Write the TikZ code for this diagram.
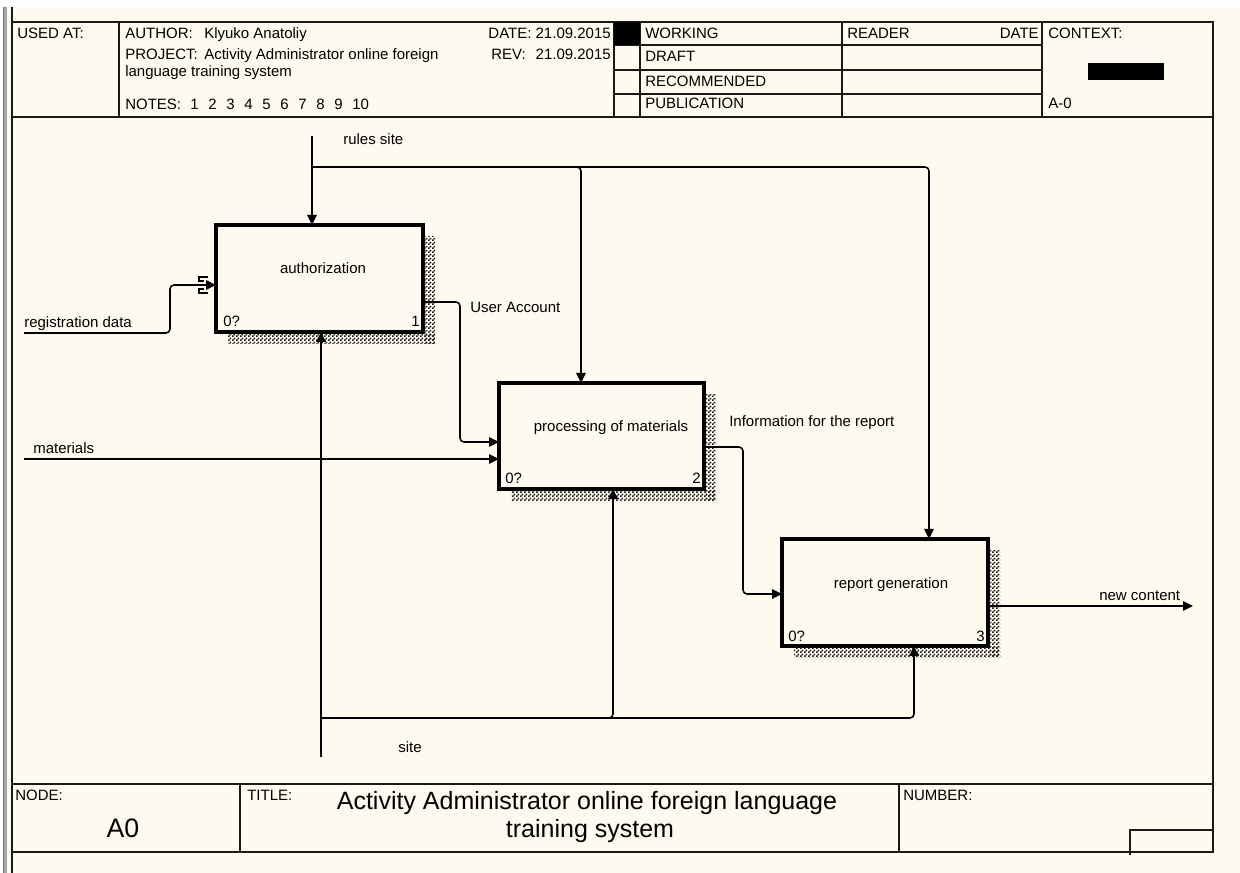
\documentclass[tikz,border=0pt]{standalone}
\usepackage{fontspec}
\setmainfont{Liberation Sans}
\usetikzlibrary{arrows.meta,patterns,calc}
\definecolor{paper}{RGB}{255,250,240}
\definecolor{ink}{RGB}{25,25,25}
% fine checker used for the box shadows
\pgfdeclarepatternformonly{dither}{\pgfpointorigin}{\pgfpoint{3pt}{3pt}}{\pgfpoint{3pt}{3pt}}{%
  \pgfpathrectangle{\pgfpointorigin}{\pgfpoint{1.5pt}{1.5pt}}%
  \pgfpathrectangle{\pgfpoint{1.5pt}{1.5pt}}{\pgfpoint{1.5pt}{1.5pt}}%
  \pgfusepath{fill}%
}
\begin{document}
\begin{tikzpicture}[x=0.75pt,y=-0.75pt,
  edgeline/.style={draw=ink,line width=1.5pt},
  gridline/.style={draw=ink,line width=1.2pt},
  fn/.style={draw=black,line width=2.3pt,fill=paper,inner sep=0pt,outer sep=0pt},
  conn/.style={draw=black,line width=1.15pt,rounded corners=3pt},
  arr/.style={conn,-{Triangle[length=7.5pt,width=7pt]}},
  hatch/.style={pattern=dither,pattern color=black!90},
  lbl/.style={font=\fontsize{11.25pt}{13pt}\selectfont,inner sep=0pt,text=black},
  ttl/.style={font=\fontsize{18.75pt}{22pt}\selectfont,inner sep=0pt,text=black},
  big/.style={font=\fontsize{20pt}{24pt}\selectfont,inner sep=0pt,text=black}]
\useasboundingbox (0,0) rectangle (1240,873);
% sheet
\fill[white] (0,0) rectangle (1240,873);
\fill[paper] (7,7) rectangle (1240,873);
\fill[black!35] (3,7) rectangle (7,873);
\draw[black!55,line width=0.6pt] (3.4,7) -- (3.4,873);

% outer frame
\draw[edgeline] (12,7) -- (12,873);
\draw[edgeline] (12,22) -- (1213,22) -- (1213,852) -- (12,852);
\draw[edgeline] (12,117) -- (1213,117);
\draw[edgeline] (12,784) -- (1213,784);

% header grid
\foreach \x in {119,614,640,842,1042} \draw[gridline] (\x,22) -- (\x,117);
\foreach \y in {45,70,94} \draw[gridline] (614,\y) -- (1042,\y);
\fill[black] (614,22) rectangle (640,45);
\fill[black] (1088,63) rectangle (1164,80);

% header texts
\node[lbl,anchor=base west] (usedat) at (17,39) {USED AT:};
\node[lbl,anchor=base west] (author) at (125,39) {AUTHOR:};
\node[lbl,anchor=base west] (authorname) at (204,39) {Klyuko Anatoliy};
\node[lbl,anchor=base west] (project) at (125,60) {PROJECT:};
\node[lbl,anchor=base west] (projname) at (204,60) {Activity Administrator online foreign};
\node[lbl,anchor=base west] (projname2) at (125,77) {language training system};
\node[lbl,anchor=base west] (notes) at (125,110) {NOTES:};
\foreach \n in {1,...,10}
  \node[lbl,anchor=base west] (note\n) at ({190+18*(\n-1)},110) {\n};
\node[lbl,anchor=base east] (date) at (611,39) {DATE: 21.09.2015};
\node[lbl,anchor=base west] (rev) at (491,60) {REV:};
\node[lbl,anchor=base east] (revdate) at (611,60) {21.09.2015};
\node[lbl,anchor=base west] (working) at (645,39) {WORKING};
\node[lbl,anchor=base west] (draft) at (645,62) {DRAFT};
\node[lbl,anchor=base west] (recommended) at (645,87) {RECOMMENDED};
\node[lbl,anchor=base west] (publication) at (645,109) {PUBLICATION};
\node[lbl,anchor=base west] (reader) at (847,39) {READER};
\node[lbl,anchor=base east] (rdate) at (1039,39) {DATE};
\node[lbl,anchor=base west] (context) at (1048,39) {CONTEXT:};
\node[lbl,anchor=base west] (ctxnode) at (1048,109) {A-0};

% footer
\draw[edgeline] (240,784) -- (240,852);
\draw[edgeline] (899,784) -- (899,852);
\draw[gridline] (1130,855) -- (1130,830) -- (1213,830);
\node[lbl,anchor=base west] (nodelbl) at (15,800) {NODE:};
\node[big,anchor=base] (nodeval) at (123,837) {A0};
\node[lbl,anchor=base west] (titlelbl) at (247,800) {TITLE:};
\node[ttl,anchor=base] (title1) at (587,809) {Activity Administrator online foreign language};
\node[ttl,anchor=base] (title2) at (590,837) {training system};
\node[lbl,anchor=base west] (numberlbl) at (903,800) {NUMBER:};

% activity boxes
\node[fn,minimum width=155.25pt,minimum height=80.25pt] (b1) at (319.5,278.5) {};
\node[fn,minimum width=153.75pt,minimum height=79.5pt] (b2) at (601.5,436) {};
\node[fn,minimum width=154.5pt,minimum height=80.25pt] (b3) at (885,592.5) {};
\foreach \b in {b1,b2,b3}{
  \fill[hatch] ($(\b.north east)+(1.5,12)$) rectangle ($(\b.south east)+(12,12)$);
  \fill[hatch] ($(\b.south west)+(12,1.5)$) rectangle ($(\b.south east)+(12,12)$);
}
\node[lbl,anchor=base] (b1txt) at (323,274) {authorization};
\node[lbl,anchor=base] (b2txt) at (611,432) {processing of materials};
\node[lbl,anchor=base] (b3txt) at (891,589) {report generation};
\node[lbl,anchor=base west] (b1id) at (223,327) {0?};
\node[lbl,anchor=base east] (b1no) at (420,327) {1};
\node[lbl,anchor=base west] (b2id) at (505,484) {0?};
\node[lbl,anchor=base east] (b2no) at (701,484) {2};
\node[lbl,anchor=base west] (b3id) at (788,642) {0?};
\node[lbl,anchor=base east] (b3no) at (985,642) {3};

% control: rules site
\coordinate (rs) at (312,136);
\coordinate (rsJ) at (312,167);
\coordinate (c2) at (581,167);
\coordinate (c3) at (929,167);
\draw[arr] (rs) -- (rs |- b1.north);
\draw[arr] (rsJ) -- (c3) -- (c3 |- b3.north);
\draw[arr] ($(c2)+(-8,0)$) -- (c2) -- (c2 |- b2.north);
\node[lbl,anchor=base west] (rslbl) at (343,145) {rules site};

% input: registration data (tunnelled)
\coordinate (rdA) at (24,333);
\coordinate (rdB) at (170,285);
\draw[arr] (rdA) -| (rdB) -- (rdB -| b1.west);
\draw[conn,rounded corners=0pt] (208,277) -- (199,277) -- (199,281) -- (204,281);
\draw[conn,rounded corners=0pt] (208,293) -- (199,293) -- (199,289) -- (204,289);
\node[lbl,anchor=base west] (rdlbl) at (24,328) {registration data};

% input: materials
\coordinate (mat) at (24,459);
\draw[arr] (mat) -- (mat -| b2.west);
\node[lbl,anchor=base west] (matlbl) at (33,454) {materials};

% output of authorization
\coordinate (uaV) at (460,302);
\coordinate (uaIn) at (460,442);
\draw[arr] (uaV -| b1.east) -- (uaV) -- (uaIn) -- (uaIn -| b2.west);
\node[lbl,anchor=base west] (ualbl) at (470,313) {User Account};

% output of processing
\coordinate (ifV) at (743,447);
\coordinate (ifIn) at (743,594);
\draw[arr] (ifV -| b2.east) -- (ifV) -- (ifIn) -- (ifIn -| b3.west);
\node[lbl,anchor=base west] (iflbl) at (729,427) {Information for the report};

% final output
\coordinate (nc) at (1193,606);
\draw[arr] (nc -| b3.east) -- (nc);
\node[lbl,anchor=base west] (nclbl) at (1099,600) {new content};

% mechanism: site
\coordinate (st) at (321,757);
\coordinate (m2) at (613,718);
\coordinate (m3) at (914,718);
\draw[arr] (st) -- (st |- b1.south);
\draw[arr] (st |- m3) -- (m3) -- (m3 |- b3.south);
\draw[arr] ($(m2)+(-8,0)$) -- (m2) -- (m2 |- b2.south);
\node[lbl,anchor=base west] (stlbl) at (398,752) {site};
\end{tikzpicture}
\end{document}
